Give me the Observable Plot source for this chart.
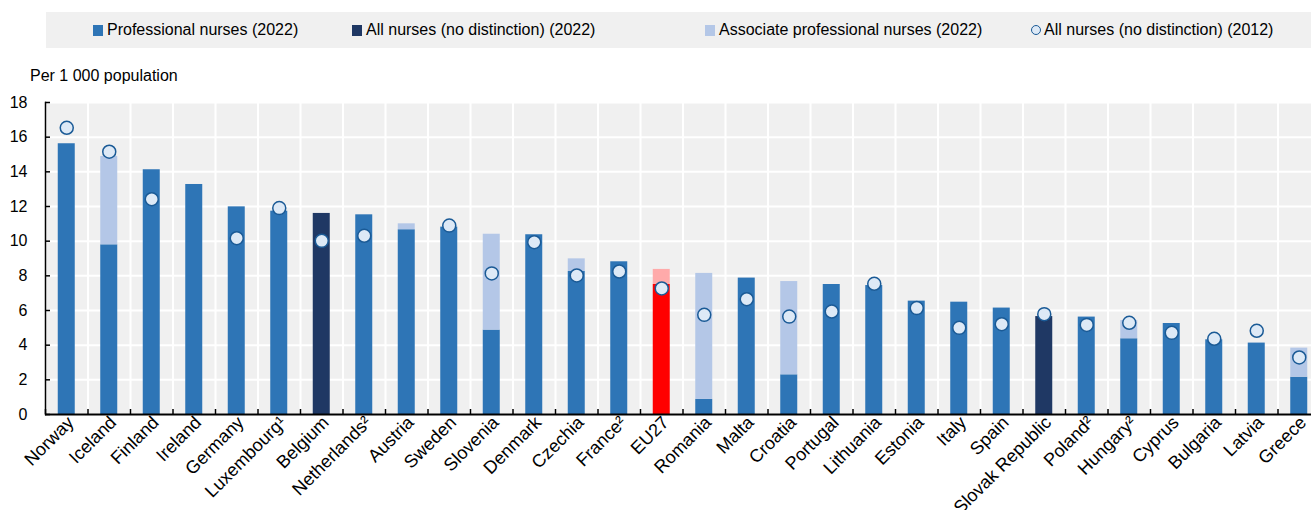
<!DOCTYPE html>
<html><head><meta charset="utf-8">
<script src="https://cdn.jsdelivr.net/npm/d3@7"></script>
<script src="https://cdn.jsdelivr.net/npm/@observablehq/plot@0.6"></script>
<style>
html,body{margin:0;padding:0;background:#fff;overflow:hidden;width:1311px;height:510px;}
body{position:relative;font-family:"Liberation Sans",Arial,sans-serif;color:#000;}
#chart{position:absolute;left:0;top:0;}
#legend{position:absolute;left:46px;top:12px;width:1300px;height:36px;background:#f0f0f0;font-size:16px;}
.item{position:absolute;top:0;height:36px;display:flex;align-items:center;white-space:nowrap;}
.sw{display:inline-block;width:10px;height:11px;margin-right:4px;}
.circ{display:inline-block;width:10px;height:10px;border-radius:50%;border:1.5px solid #1a5a96;background:#dde9f6;margin-right:3px;box-sizing:border-box;}
#ylabel{position:absolute;left:30px;top:67px;font-size:16px;line-height:18px;}
</style></head><body>
<div id="chart"></div>
<div id="legend">
  <div class="item" style="left:47px"><span class="sw" style="background:#2e75b6"></span>Professional nurses (2022)</div>
  <div class="item" style="left:306px"><span class="sw" style="background:#1f3864"></span>All nurses (no distinction) (2022)</div>
  <div class="item" style="left:659px"><span class="sw" style="background:#b4c7e7"></span>Associate professional nurses (2022)</div>
  <div class="item" style="left:985px"><span class="circ"></span>All nurses (no distinction) (2012)</div>
</div>
<div id="ylabel">Per 1 000 population</div>
<script>
const countries = ["Norway","Iceland","Finland","Ireland","Germany","Luxembourg¹","Belgium","Netherlands²","Austria","Sweden","Slovenia","Denmark","Czechia","France²","EU27","Romania","Malta","Croatia","Portugal","Lithuania","Estonia","Italy","Spain","Slovak Republic","Poland²","Hungary²","Cyprus","Bulgaria","Latvia","Greece"];
const professional2022 = [15.62,9.79,14.12,13.27,11.98,11.73,null,11.52,10.66,10.81,4.87,10.37,8.25,8.81,7.50,0.87,7.87,2.29,7.50,7.44,6.54,6.48,6.14,null,5.62,4.37,5.25,4.31,4.12,2.15];
const noDistinction2022 = [null,null,null,null,null,null,11.60,null,null,null,null,null,null,null,null,null,null,null,null,null,null,null,null,5.65,null,null,null,null,null,null];
const associate2022 = [null,5.10,null,null,null,null,null,null,0.34,null,5.53,null,0.73,null,0.87,7.27,null,5.38,null,null,null,null,null,null,null,1.05,null,null,null,1.68];
const nurses2012 = [16.54,15.16,12.42,null,10.17,11.91,10.02,10.31,null,10.90,8.14,9.94,8.02,8.25,7.27,5.75,6.65,5.65,5.94,7.54,6.14,5.00,5.21,5.79,5.17,5.29,4.71,4.37,4.83,3.29];
const yTicks = [0,2,4,6,8,10,12,14,16,18];

const seriesColors = {prof:"#2e75b6", nd:"#1f3864", assoc:"#b4c7e7"};
const euColors = {prof:"#ff0000", nd:"#ff0000", assoc:"#ffaaaa"};

const rows = [];
countries.forEach((c,i)=>{
  if (professional2022[i] != null) rows.push({country:c, series:"prof", value:professional2022[i]});
  if (noDistinction2022[i] != null) rows.push({country:c, series:"nd", value:noDistinction2022[i]});
  if (associate2022[i] != null) rows.push({country:c, series:"assoc", value:associate2022[i]});
});
const dots = countries.map((c,i)=>({country:c, value:nurses2012[i]})).filter(d=>d.value!=null);

const W = 1320, ML = 45, MR = 0;
const step = (W - ML - MR) / countries.length;

const chart = Plot.plot({
  width: W, height: 560,
  marginLeft: ML, marginRight: MR, marginTop: 102, marginBottom: 146,
  style: {fontFamily: "'Liberation Sans', Arial, sans-serif", fontSize: "16px", color: "#000", background: "transparent", overflow: "visible", maxWidth: "none"},
  x: {domain: countries, paddingInner: 0.6, paddingOuter: 0.3, round: false, label: null},
  y: {domain: [0,18], ticks: yTicks, label: null},
  color: {type: "identity"},
  marks: [
    Plot.frame({fill: "#f0f0f0", stroke: null}),
    Plot.gridY(yTicks, {stroke: "white", strokeOpacity: 1, strokeWidth: 2}),
    Plot.gridX({stroke: "white", strokeOpacity: 1, strokeWidth: 2, dx: -step/2}),
    Plot.barY(rows, {x: "country", y: "value", fill: d => (d.country === "EU27" ? euColors : seriesColors)[d.series]}),
    Plot.ruleY([0], {stroke: "black", strokeWidth: 2}),
    Plot.frame({anchor: "left", stroke: "black", strokeWidth: 1.5}),
    Plot.axisY(yTicks, {tickSize: 0, tickPadding: 18, fontSize: 16, fill: "black"}),
    Plot.axisY(yTicks, {text: null, tickSize: 5, dx: 5, stroke: "black", strokeWidth: 1.5}),
    Plot.axisX({tickRotate: -45, tickSize: 0, tickPadding: 5, dx: 4, fontSize: 18, fill: "black"}),
    Plot.axisX({text: null, tickSize: 5, dy: -5, dx: -step/2, stroke: "black", strokeWidth: 1.5}),
    Plot.dot(dots, {x: "country", y: "value", r: 6.5, fill: "#dde9f6", stroke: "#1a5a96", strokeWidth: 1.5})
  ]
});
document.getElementById("chart").appendChild(chart);
</script>
</body></html>
